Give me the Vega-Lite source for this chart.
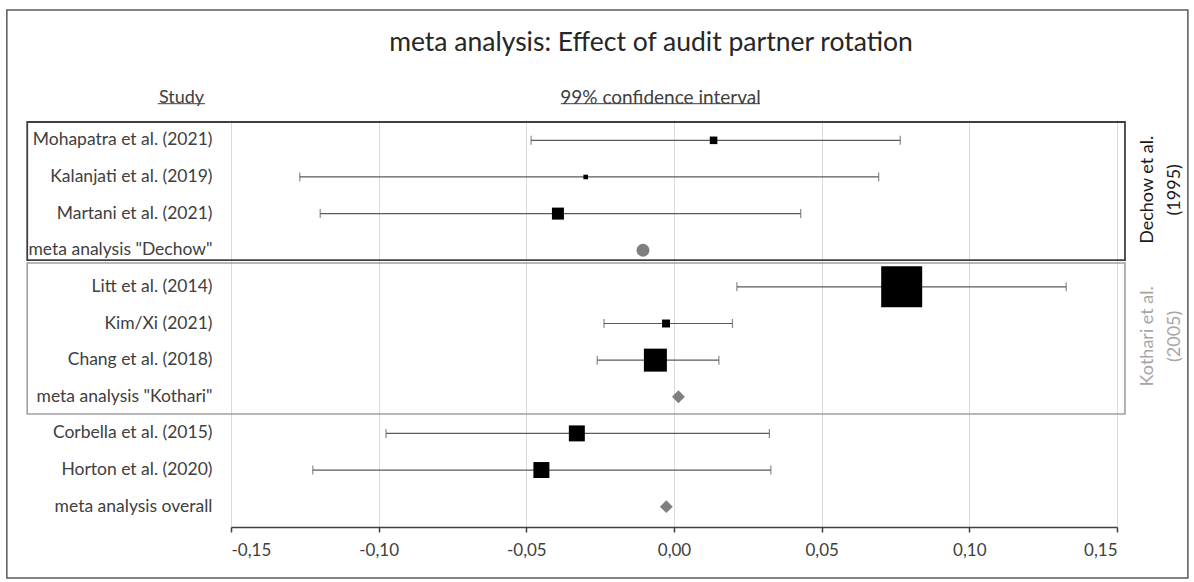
{
  "$schema": "https://vega.github.io/schema/vega-lite/v6.json",
  "width": 886,
  "height": 407,
  "autosize": {"type": "none"},
  "padding": {"left": 231, "top": 120, "right": 77, "bottom": 55},
  "background": "white",
  "config": {
    "view": {"stroke": null},
    "font": "Lato",
    "locale": {"number": {"decimal": ",", "thousands": ".", "grouping": [3], "currency": ["", " €"], "minus": "-"}}
  },
  "title": {
    "text": "meta analysis: Effect of audit partner rotation",
    "font": "Lato", "fontSize": 26.5, "fontWeight": "normal", "color": "#262626",
    "anchor": "middle", "frame": "group", "dx": -23, "offset": -68, "baseline": "alphabetic"
  },
  "datasets": {
    "rows": [
      {"study": "Mohapatra et al. (2021)", "type": "study", "est": 0.0134, "lo": -0.0484, "hi": 0.0766, "weight": 1.9},
      {"study": "Kalanjati et al. (2019)", "type": "study", "est": -0.0299, "lo": -0.1267, "hi": 0.0693, "weight": 0.7},
      {"study": "Martani et al. (2021)", "type": "study", "est": -0.0393, "lo": -0.1198, "hi": 0.0429, "weight": 4.8},
      {"study": "meta analysis \"Dechow\"", "type": "meta", "est": -0.0105},
      {"study": "Litt et al. (2014)", "type": "study", "est": 0.0771, "lo": 0.0213, "hi": 0.1328, "weight": 55.9},
      {"study": "Kim/Xi (2021)", "type": "study", "est": -0.0027, "lo": -0.0237, "hi": 0.0198, "weight": 2.1},
      {"study": "Chang et al. (2018)", "type": "study", "est": -0.0063, "lo": -0.026, "hi": 0.0152, "weight": 17.6},
      {"study": "meta analysis \"Kothari\"", "type": "meta", "est": 0.0015},
      {"study": "Corbella et al. (2015)", "type": "study", "est": -0.0329, "lo": -0.0975, "hi": 0.0323, "weight": 8.5},
      {"study": "Horton et al. (2020)", "type": "study", "est": -0.0449, "lo": -0.1223, "hi": 0.0328, "weight": 8.5},
      {"study": "meta analysis overall", "type": "meta", "est": -0.0026}
    ],
    "groups": [
      {"group": "Dechow et al.\n(1995)", "first": "Mohapatra et al. (2021)", "last": "meta analysis \"Dechow\"", "mid": "Kalanjati et al. (2019)"},
      {"group": "Kothari et al.\n(2005)", "first": "Litt et al. (2014)", "last": "meta analysis \"Kothari\"", "mid": "Kim/Xi (2021)"}
    ],
    "headers": [
      {"header": "Study", "from": -0.1748, "to": -0.1588},
      {"header": "99% confidence interval", "from": -0.0383, "to": 0.0291}
    ]
  },
  "layer": [
    {
      "data": {"name": "rows"},
      "transform": [{"filter": "datum.type == 'study'"}],
      "mark": {"type": "rule", "color": "#5a5a5a", "strokeWidth": 1.2},
      "encoding": {
        "x": {
          "field": "lo", "type": "quantitative",
          "scale": {"domain": [-0.15, 0.15], "nice": false, "zero": false},
          "axis": {
            "values": [-0.15, -0.1, -0.05, 0, 0.05, 0.1, 0.15],
            "format": ".2f",
            "grid": true, "gridColor": "#d9d9d9", "gridWidth": 1,
            "domainColor": "#404040", "domainWidth": 1.5,
            "tickColor": "#404040", "tickSize": 5, "tickWidth": 1.5,
            "labelFont": "Lato", "labelFontSize": 17, "labelColor": "#404040", "labelPadding": 10,
            "title": "99% confidence interval",
            "titleFont": "Lato", "titleFontSize": 19, "titleFontWeight": "normal", "titleColor": "#404040",
            "titleX": 429, "titleY": -430, "titleAlign": "center", "titleBaseline": "middle", "titleAngle": 0
          }
        },
        "x2": {"field": "hi"},
        "y": {
          "field": "study", "type": "nominal",
          "scale": {
            "domain": ["Mohapatra et al. (2021)", "Kalanjati et al. (2019)", "Martani et al. (2021)", "meta analysis \"Dechow\"", "Litt et al. (2014)", "Kim/Xi (2021)", "Chang et al. (2018)", "meta analysis \"Kothari\"", "Corbella et al. (2015)", "Horton et al. (2020)", "meta analysis overall"],
            "paddingInner": 0, "paddingOuter": 0.055
          },
          "axis": {
            "title": "Study", "titleAngle": 0, "titleX": -50, "titleY": -23, "titleAlign": "center", "titleBaseline": "middle",
            "titleFont": "Lato", "titleFontSize": 18, "titleFontWeight": "normal", "titleColor": "#404040",
            "labelFont": "Lato", "labelFontSize": 17.5, "labelColor": "#404040", "labelPadding": 19, "labelLimit": 300,
            "ticks": false, "domain": false, "grid": false
          }
        }
      }
    },
    {
      "data": {"name": "rows"},
      "transform": [{"filter": "datum.type == 'study'"}],
      "mark": {"type": "tick", "color": "#5a5a5a", "thickness": 1.2, "size": 9, "orient": "vertical"},
      "encoding": {"x": {"field": "lo", "type": "quantitative"}, "y": {"field": "study", "type": "nominal"}}
    },
    {
      "data": {"name": "rows"},
      "transform": [{"filter": "datum.type == 'study'"}],
      "mark": {"type": "tick", "color": "#5a5a5a", "thickness": 1.2, "size": 9, "orient": "vertical"},
      "encoding": {"x": {"field": "hi", "type": "quantitative"}, "y": {"field": "study", "type": "nominal"}}
    },
    {
      "data": {"name": "rows"},
      "transform": [{"filter": "datum.type == 'study'"}],
      "mark": {"type": "point", "shape": "square", "filled": true, "color": "#000000", "opacity": 1},
      "encoding": {
        "x": {"field": "est", "type": "quantitative"},
        "y": {"field": "study", "type": "nominal"},
        "size": {"field": "weight", "type": "quantitative", "scale": {"type": "linear", "domain": [0, 100], "range": [0, 3006], "zero": true}, "legend": null}
      }
    },
    {
      "data": {"name": "rows"},
      "transform": [{"filter": "datum.type == 'meta'"}],
      "mark": {"type": "point", "filled": true, "color": "#7f7f7f", "opacity": 1, "size": 165},
      "encoding": {
        "x": {"field": "est", "type": "quantitative"},
        "y": {"field": "study", "type": "nominal"},
        "shape": {"field": "study", "type": "nominal", "scale": {"domain": ["meta analysis \"Dechow\"", "meta analysis \"Kothari\"", "meta analysis overall"], "range": ["circle", "diamond", "diamond"]}, "legend": null}
      }
    },
    {
      "data": {"name": "groups"},
      "transform": [{"filter": "indexof(datum.group, 'Dechow') >= 0"}],
      "mark": {"type": "rect", "fill": null, "stroke": "#404040", "strokeWidth": 1.8, "clip": false},
      "encoding": {
        "x": {"datum": -0.219, "type": "quantitative"},
        "x2": {"datum": 0.1527},
        "y": {"field": "first", "type": "nominal", "bandPosition": 0},
        "y2": {"field": "last", "bandPosition": 0.77}
      }
    },
    {
      "data": {"name": "groups"},
      "transform": [{"filter": "indexof(datum.group, 'Kothari') >= 0"}],
      "mark": {"type": "rect", "fill": null, "stroke": "#a0a0a0", "strokeWidth": 1.6, "clip": false},
      "encoding": {
        "x": {"datum": -0.219, "type": "quantitative"},
        "x2": {"datum": 0.1527},
        "y": {"field": "first", "type": "nominal", "bandPosition": -0.15},
        "y2": {"field": "last", "bandPosition": 0.97}
      }
    },
    {
      "data": {"name": "groups"},
      "mark": {"type": "text", "angle": 270, "align": "center", "baseline": "middle", "lineBreak": "\n", "lineHeight": 27, "font": "Lato", "fontSize": 18, "clip": false},
      "encoding": {
        "x": {"datum": 0.1605, "type": "quantitative"},
        "y": {"field": "mid", "type": "nominal", "bandPosition": 0.85},
        "text": {"field": "group", "type": "nominal"},
        "color": {"field": "group", "type": "nominal", "scale": {"domain": ["Dechow et al.\n(1995)", "Kothari et al.\n(2005)"], "range": ["#1a1a1a", "#a6a6a6"]}, "legend": null}
      }
    },
    {
      "data": {"name": "headers"},
      "mark": {"type": "rule", "color": "#404040", "strokeWidth": 1, "clip": false},
      "encoding": {
        "x": {"field": "from", "type": "quantitative"},
        "x2": {"field": "to"},
        "y": {"datum": "Mohapatra et al. (2021)", "type": "nominal", "bandPosition": -0.5}
      }
    },
    {
      "data": {"values": [{}]},
      "mark": {"type": "rect", "fill": null, "stroke": "#595959", "strokeWidth": 1.5, "clip": false},
      "encoding": {
        "x": {"datum": -0.2259, "type": "quantitative"},
        "x2": {"datum": 0.174},
        "y": {"datum": "Mohapatra et al. (2021)", "type": "nominal", "bandPosition": -3.06},
        "y2": {"datum": "meta analysis overall", "bandPosition": 2.45}
      }
    }
  ]
}
